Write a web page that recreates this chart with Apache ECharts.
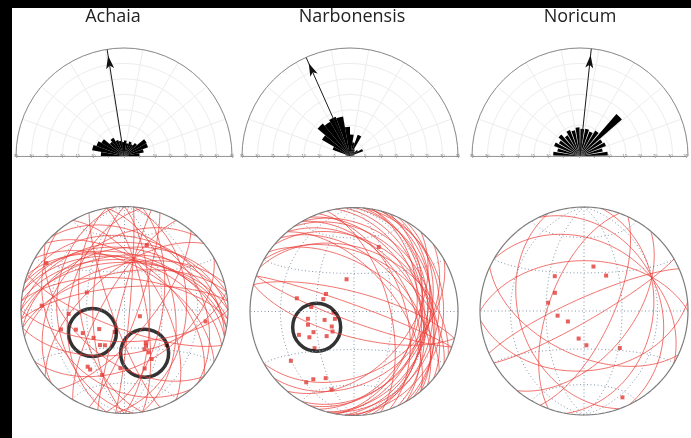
<!DOCTYPE html>
<html>
<head>
<meta charset="utf-8">
<script src="https://cdn.jsdelivr.net/npm/echarts@6/dist/echarts.min.js"></script>
<style>
html, body { margin: 0; padding: 0; background: #fff; }
#chart { width: 691px; height: 438px; }
</style>
</head>
<body>
<div id="chart"></div>
<script>
// Provinces shown left to right
const provinces = ['Achaia', 'Narbonensis', 'Noricum'];

// Rose diagrams: 10° azimuth classes from W (-90°) to E (+90°)
const roseBins = ['-85', '-75', '-65', '-55', '-45', '-35', '-25', '-15', '-5',
                  '5', '15', '25', '35', '45', '55', '65', '75', '85'];
const achaiaRose      = [7.5, 10.5, 9.5, 8.5, 6, 6.8, 5.5, 5, 4.5, 5, 4.2, 5, 4.5, 5.5, 8.5, 8.3, 6.5, 5];
const narbonensisRose = [0.8, 1.5, 6, 10.5, 13.7, 12.8, 13.5, 13, 9.5, 7, 4.5, 7.3, 2.5, 2, 3, 4.5, 1.5, 0.8];
const noricumRose     = [8.7, 7.5, 9, 8, 9.2, 7.8, 9, 8.5, 9.3, 8.8, 9, 8.5, 9.6, 18, 8.5, 9, 7.5, 9];
const roseMax = 35;
const roseStep = 5;
// Mean direction (azimuth, degrees from N, negative = west)
const meanAzimuth = [-9, -24, 6];

// Stereonets (equal-area, lower hemisphere)
// Planes as [dip direction, dip]
const achaiaPlanes = [
  [10, 48], [5, 50], [15, 45], [20, 50], [0, 52], [355, 46], [40, 52], [345, 54],
  [60, 60], [320, 60], [80, 73], [300, 73], [95, 86], [285, 86], [30, 55], [350, 40],
  [0, 35], [10, 40], [350, 60], [5, 65], [15, 30], [355, 72],
  [90, 70], [100, 60], [270, 65], [260, 55], [80, 50], [280, 45], [110, 80], [250, 80],
  [265, 35], [95, 40],
  [180, 65], [170, 55], [200, 75], [150, 45], [220, 50], [130, 70], [230, 30], [45, 30], [315, 35]
];
const narbonensisPlanes = [
  [95, 30], [100, 35], [105, 28], [85, 33], [110, 38], [90, 25], [115, 32], [80, 36], [100, 40], [120, 30],
  [95, 15], [105, 20],
  [40, 35], [50, 40], [45, 48], [55, 32], [60, 45], [35, 55], [65, 38], [30, 45], [50, 58], [70, 50],
  [25, 40], [60, 28],
  [20, 85], [200, 82], [15, 75], [195, 70],
  [140, 35], [130, 45], [150, 40], [75, 62]
];
const noricumPlanes = [
  [64, 28], [100, 34], [130, 53], [150, 82], [30, 33], [0, 50], [336, 80],
  [175, 42], [250, 38], [290, 62], [115, 68], [205, 55]
];
// Lines as [trend, plunge]
const achaiaPoles = [
  [19, 34], [273, 21], [295, 57], [253, 36], [248, 48], [241, 52], [233, 65], [204, 71],
  [228, 57], [215, 56], [209, 58], [213, 35], [210, 34], [199, 34], [184, 43], [149, 57],
  [153, 55], [150, 51], [147, 59], [151, 45], [161, 40], [130, 46], [98, 22], [112, 77],
  [266, 45], [301, 13]
];
const narbonensisPoles = [
  [21, 34], [347, 64], [302, 64], [292, 64], [283, 43], [276, 56], [268, 74], [249, 74],
  [254, 66], [261, 53], [254, 52], [236, 69], [227, 67], [243, 54], [247, 42], [240, 49],
  [228, 61], [227, 47], [232, 24], [211, 25], [203, 31], [214, 19], [196, 23]
];
const noricumPoles = [
  [12, 54], [32, 57], [320, 54], [302, 63], [283, 61], [260, 69], [237, 75], [191, 68],
  [176, 63], [136, 49], [156, 10]
];
// Highlighted clusters as [trend, plunge]
const achaiaClusters = [[235, 59], [155, 52]];
const narbonensisClusters = [[247, 58]];
const noricumClusters = [];

// ---- layout ----
const roseCenters = [124, 350, 580];
const roseY = 156;
const roseR = 108;
const netCenters = [[124.5, 310], [354, 311.5], [584, 311]];
const netR = [103.5, 104, 104];

const roses = [achaiaRose, narbonensisRose, noricumRose];
const planes = [achaiaPlanes, narbonensisPlanes, noricumPlanes];
const poles = [achaiaPoles, narbonensisPoles, noricumPoles];
const clusters = [achaiaClusters, narbonensisClusters, noricumClusters];
const petalWidth = ['100%', '100%', '80%'];

// ---- equal-area projection helpers ----
const D = Math.PI / 180;
function project(n, e, d) {
  const k = 1 / Math.sqrt(1 + Math.max(d, -0.999));
  return [e * k, n * k];
}
function lineToXY(trend, plunge) {
  const c = Math.cos(plunge * D);
  return project(c * Math.cos(trend * D), c * Math.sin(trend * D), Math.sin(plunge * D));
}
function greatCircle(dd, dip) {
  const s = (dd - 90) * D, a = dd * D, b = dip * D;
  const pts = [];
  for (let t = 0; t <= 180; t += 2) {
    const c = Math.cos(t * D), si = Math.sin(t * D);
    const n = c * Math.cos(s) + si * Math.cos(b) * Math.cos(a);
    const e = c * Math.sin(s) + si * Math.cos(b) * Math.sin(a);
    const d = Math.max(0, si * Math.sin(b));
    pts.push(project(n, e, d));
  }
  return pts;
}
// small circle of half-angle alpha about the horizontal N–S axis
function smallCircle(alpha, sign) {
  const pts = [];
  for (let p = 0; p <= 180; p += 3) {
    const n = sign * Math.cos(alpha * D);
    const e = Math.sin(alpha * D) * Math.cos(p * D);
    const d = Math.sin(alpha * D) * Math.sin(p * D);
    pts.push(project(n, e, d));
  }
  return pts;
}
function primitive() {
  const pts = [];
  for (let az = 0; az <= 360; az += 2) pts.push(project(Math.cos(az * D), Math.sin(az * D), 0));
  return pts;
}
const netGrid = [
  greatCircle(90, 30), greatCircle(90, 60), greatCircle(270, 30), greatCircle(270, 60), greatCircle(90, 90),
  smallCircle(30, 1), smallCircle(60, 1), smallCircle(30, -1), smallCircle(60, -1), smallCircle(90, 1)
];

// ---- option assembly ----
const polar = [], angleAxis = [], radiusAxis = [], grid = [], xAxis = [], yAxis = [], series = [];
const hidden = { axisLine: { show: false }, axisTick: { show: false }, axisLabel: { show: false }, splitLine: { show: false } };

roseCenters.forEach((cx, i) => {
  // petals
  polar.push({ center: [cx, roseY], radius: roseR });
  angleAxis.push({
    polarIndex: 2 * i, type: 'category', data: roseBins, startAngle: 180, endAngle: 0,
    axisLine: { lineStyle: { color: '#8c8c8c', width: 1 } },
    axisTick: { show: false }, axisLabel: { show: false },
    splitLine: { show: true, lineStyle: { color: '#ededed', width: 1 } }
  });
  radiusAxis.push({
    polarIndex: 2 * i, type: 'value', min: 0, max: roseMax, interval: roseStep,
    axisLine: { show: false }, axisTick: { show: false }, axisLabel: { show: false },
    splitLine: { show: true, lineStyle: { color: '#ededed', width: 1 } }
  });
  series.push({
    type: 'bar', coordinateSystem: 'polar', polarIndex: 2 * i, data: roses[i],
    barWidth: petalWidth[i], itemStyle: { color: '#000' }, silent: true
  });
  // mean-direction arrow
  polar.push({ center: [cx, roseY], radius: roseR });
  angleAxis.push(Object.assign({ polarIndex: 2 * i + 1, type: 'value', min: 0, max: 180,
    startAngle: 0, endAngle: 180, clockwise: false }, hidden));
  radiusAxis.push(Object.assign({ polarIndex: 2 * i + 1, type: 'value', min: 0, max: roseMax }, hidden));
  const az = meanAzimuth[i];
  const ang = 90 - az;
  const headLen = 13;
  series.push({
    type: 'line', coordinateSystem: 'polar', polarIndex: 2 * i + 1, silent: true,
    lineStyle: { color: '#1a1a1a', width: 1 }, itemStyle: { color: '#111' },
    data: [
      { value: [0, ang], symbol: 'none' },
      { value: [roseMax, ang], symbol: 'arrow', symbolSize: [6, headLen], symbolRotate: -az,
        symbolOffset: [-Math.sin(az * D) * headLen / 2, Math.cos(az * D) * headLen / 2] }
    ]
  });
  // scale bar along the base line
  grid.push({ left: cx - roseR, top: roseY - 1, width: 2 * roseR, height: 1 });
  xAxis.push({
    gridIndex: i, type: 'value', min: -roseMax, max: roseMax, interval: roseStep,
    axisLine: { lineStyle: { color: '#9a9a9a', width: 1 } },
    axisTick: { show: true, length: 2, lineStyle: { color: '#b0b0b0' } },
    axisLabel: { fontSize: 4, color: '#777', margin: -2, formatter: v => (v === 0 ? '' : String(Math.abs(v))) },
    splitLine: { show: false }
  });
  yAxis.push({ gridIndex: i, type: 'value', min: 0, max: 1, show: false });
});

netCenters.forEach((c, i) => {
  const gi = 3 + i;
  const R = netR[i];
  grid.push({ left: c[0] - R, top: c[1] - R, width: 2 * R, height: 2 * R });
  xAxis.push({ gridIndex: gi, type: 'value', min: -1, max: 1, show: false });
  yAxis.push({ gridIndex: gi, type: 'value', min: -1, max: 1, show: false });
  const base = { xAxisIndex: gi, yAxisIndex: gi, silent: true, symbol: 'none', clip: false };
  netGrid.forEach(pts => series.push(Object.assign({
    type: 'line', data: pts, lineStyle: { color: '#8496a8', width: 1, type: [1, 2.5] }
  }, base)));
  planes[i].forEach(p => series.push(Object.assign({
    type: 'line', data: greatCircle(p[0], p[1]), lineStyle: { color: 'rgba(235,60,55,0.8)', width: 0.9 }
  }, base)));
  series.push(Object.assign({
    type: 'line', data: primitive(), lineStyle: { color: '#7d7d7d', width: 1.2 }
  }, base));
  series.push({
    type: 'scatter', xAxisIndex: gi, yAxisIndex: gi, silent: true, symbol: 'rect', symbolSize: 4,
    itemStyle: { color: '#e03a34' }, data: poles[i].map(p => lineToXY(p[0], p[1]))
  });
  series.push({
    type: 'scatter', xAxisIndex: gi, yAxisIndex: gi, silent: true, symbol: 'circle', symbolSize: 48,
    itemStyle: { color: 'rgba(0,0,0,0)', borderColor: '#000', borderWidth: 3.5 },
    data: clusters[i].map(p => lineToXY(p[0], p[1]))
  });
});

const titleX = [113, 352, 580];
const graphic = [
  { type: 'rect', shape: { x: 0, y: 0, width: 12, height: 438 }, style: { fill: '#000' }, z: 10 },
  { type: 'rect', shape: { x: 0, y: 0, width: 691, height: 8 }, style: { fill: '#000' }, z: 10 }
].concat(provinces.map((name, i) => ({
  type: 'text', x: titleX[i], y: 17, z: 10,
  style: { text: name, font: '18px "Open Sans", sans-serif', fill: '#222', align: 'center', verticalAlign: 'middle' }
})));

const chart = echarts.init(document.getElementById('chart'), null, { renderer: 'canvas' });
chart.setOption({
  backgroundColor: '#fff',
  animation: false,
  polar, angleAxis, radiusAxis, grid, xAxis, yAxis, series, graphic
});
</script>
</body>
</html>
